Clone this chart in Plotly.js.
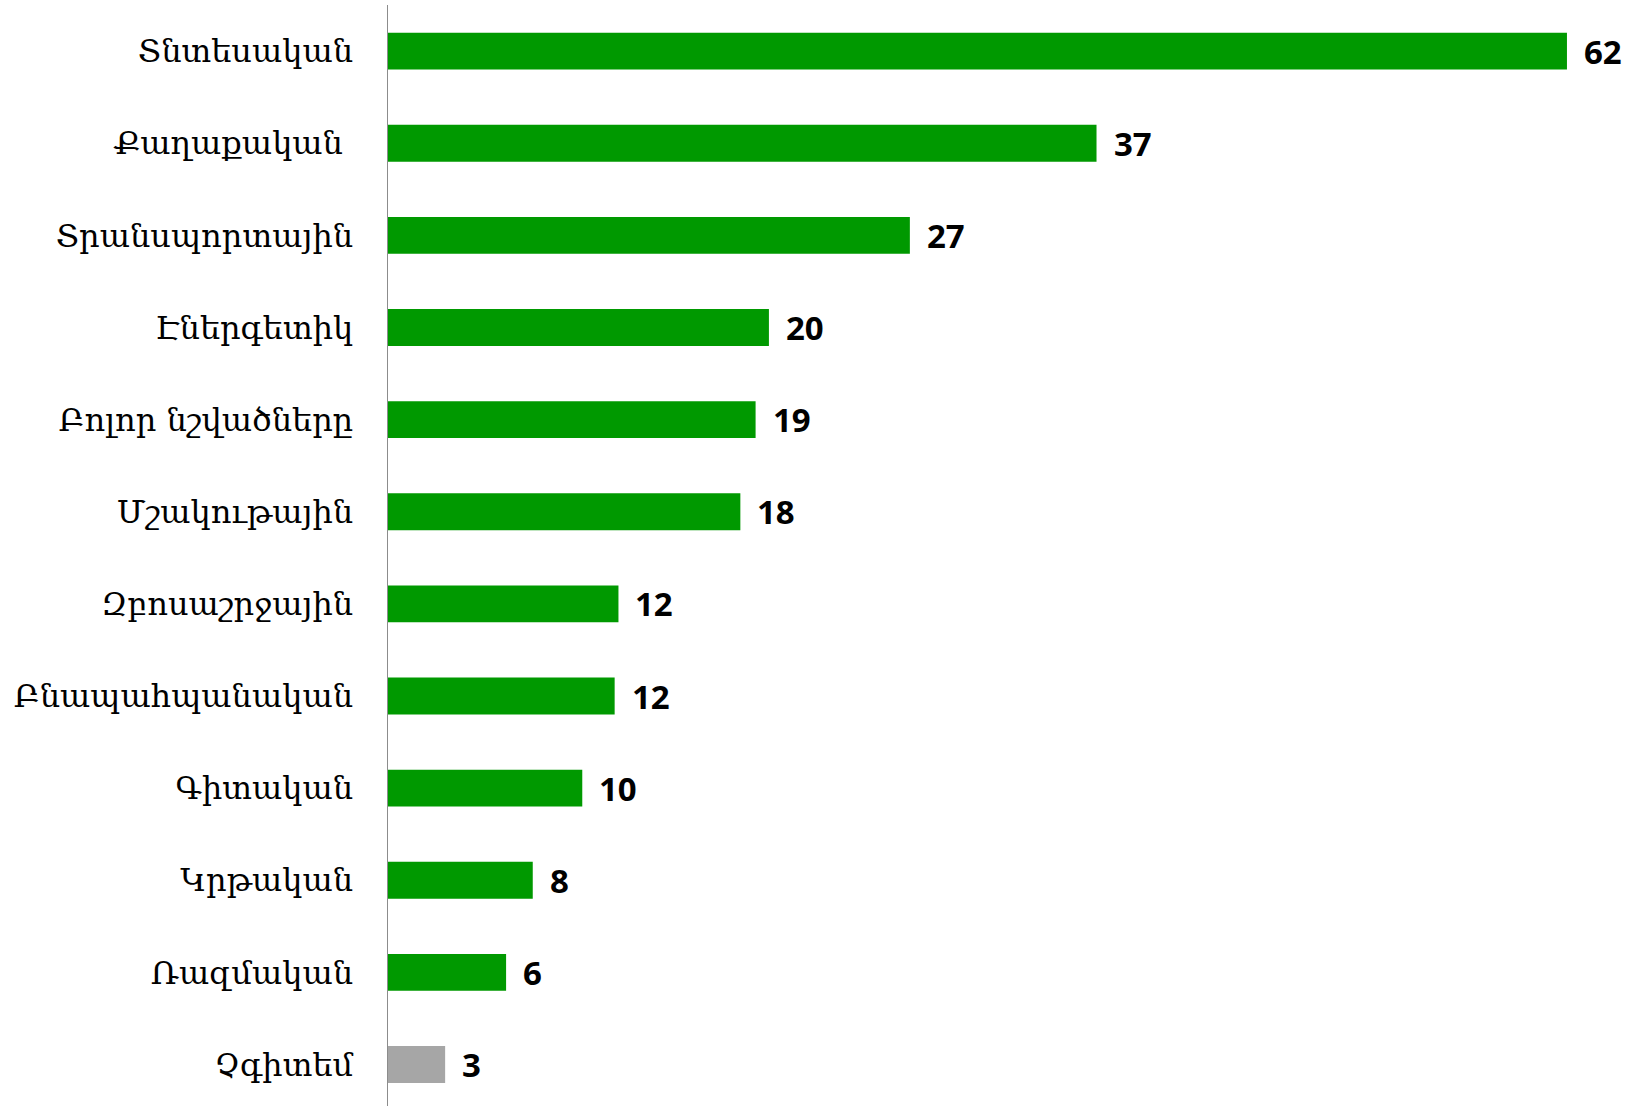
<!DOCTYPE html>
<html>
<head>
<meta charset="utf-8">
<script src="https://cdn.plot.ly/plotly-3.0.1.min.js"></script>
<style>
html,body{margin:0;padding:0;overflow:hidden;background:#fff;}
#chart{width:1635px;height:1106px;}
</style>
</head>
<body>
<div id="chart"></div>
<script>
const categories = [
  "Տնտեսական",
  "Քաղաքական ",
  "Տրանսպորտային",
  "Էներգետիկ",
  "Բոլոր նշվածները",
  "Մշակութային",
  "Զբոսաշրջային",
  "Բնապահպանական",
  "Գիտական",
  "Կրթական",
  "Ռազմական",
  "Չգիտեմ"
];
const values = [61.9, 37.2, 27.4, 20.0, 19.3, 18.5, 12.1, 11.9, 10.2, 7.6, 6.2, 3.0];
const valueLabels = ["62", "37", "27", "20", "19", "18", "12", "12", "10", "8", "6", "3"];
const barColors = ["#009900","#009900","#009900","#009900","#009900","#009900",
                   "#009900","#009900","#009900","#009900","#009900","#A6A6A6"];

const trace = {
  type: "bar",
  orientation: "h",
  x: values,
  y: categories,
  marker: {color: barColors, line: {width: 0}},
  hoverinfo: "none"
};

const annotations = values.map((v, i) => ({
  x: v, y: categories[i], xref: "x", yref: "y",
  text: "<b>" + valueLabels[i] + "</b>",
  showarrow: false, xanchor: "left", yanchor: "middle",
  xshift: 15, yshift: 0,
  font: {family: "Open Sans, sans-serif", size: 33, color: "#000"}
}));

const layout = {
  width: 1635, height: 1106,
  margin: {l: 388, r: 9, t: 5, b: 0, pad: 0},
  paper_bgcolor: "#fff", plot_bgcolor: "#fff",
  showlegend: false,
  bargap: 0.6,
  xaxis: {range: [0, 65], visible: false, showgrid: false, zeroline: false, fixedrange: true},
  yaxis: {
    type: "category",
    categoryorder: "array", categoryarray: categories,
    range: [11.45, -0.5],
    showline: true, linecolor: "#8c8c8c", linewidth: 1.5,
    ticks: "outside", ticklen: 27, tickcolor: "rgba(0,0,0,0)",
    showgrid: false, zeroline: false,
    tickfont: {family: "DejaVu Serif, serif", size: 32, color: "#000"},
    automargin: false
  },
  annotations: annotations
};

Plotly.newPlot("chart", [trace], layout, {displayModeBar: false, staticPlot: true});
</script>
</body>
</html>
